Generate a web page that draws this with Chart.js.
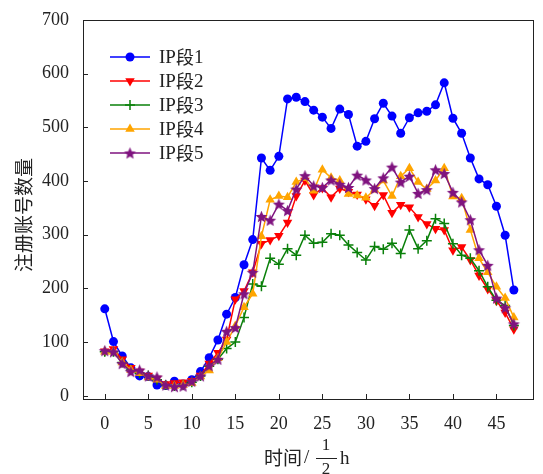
<!DOCTYPE html>
<html>
<head>
<meta charset="utf-8">
<script src="https://cdn.jsdelivr.net/npm/chart.js@4.4.1/dist/chart.umd.min.js"></script>
<style>
  body { margin: 0; background: #fff; }
  canvas { display: block; }
</style>
</head>
<body>
<canvas id="chart" width="543" height="474"></canvas>
<script>
// half-hour slots 0..47
const slots = Array.from({ length: 48 }, (_, i) => i);

const ip1 = [162, 101, 74, 52, 37, 36, 20, 19, 27, 22, 30, 45, 71, 104, 152, 183, 244, 291, 443, 420,
  446, 553, 556, 548, 532, 519, 498, 534, 524, 465, 474, 516, 545, 521, 489, 518, 527, 530, 542, 583,
  517, 489, 443, 404, 393, 353, 299, 197];
const ip2 = [83, 87, 68, 52, 45, 38, 32, 22, 24, 25, 28, 38, 60, 80, 105, 180, 195, 230, 283, 290,
  298, 323, 372, 401, 374, 387, 370, 386, 380, 375, 366, 354, 374, 341, 356, 351, 333, 320, 311, 309,
  271, 277, 253, 224, 199, 177, 155, 124];
const ip3 = [82, 82, 62, 48, 42, 38, 30, 20, 18, 20, 25, 37, 55, 68, 88, 100, 146, 208, 204, 256,
  245, 274, 262, 299, 284, 286, 302, 299, 281, 267, 253, 278, 273, 284, 265, 309, 274, 289, 330, 321,
  283, 262, 256, 233, 203, 178, 168, 131];
const ip4 = [82, 82, 62, 48, 42, 34, 30, 18, 18, 20, 24, 36, 47, 70, 100, 130, 165, 190, 297, 365,
  372, 370, 398, 405, 382, 421, 406, 401, 376, 373, 369, 384, 401, 372, 409, 424, 398, 385, 401, 424,
  371, 368, 309, 256, 230, 203, 182, 146];
const ip5 = [84, 82, 60, 45, 48, 37, 35, 20, 17, 18, 27, 37, 56, 68, 120, 127, 190, 230, 334, 327,
  357, 345, 385, 410, 391, 388, 402, 394, 388, 411, 402, 386, 406, 426, 398, 409, 377, 384, 421, 414,
  379, 361, 328, 272, 243, 182, 164, 134];

const seriesNames = ["IP段1", "IP段2", "IP段3", "IP段4", "IP段5"];
const xTicks = [0, 5, 10, 15, 20, 25, 30, 35, 40, 45];
const yTicks = [0, 100, 200, 300, 400, 500, 600, 700];

const SERIF = "'Liberation Serif', 'Times New Roman', serif";
const CJK = "'Noto Sans CJK SC', sans-serif";

// filled star marker, chart.js 'star' is only an asterisk
function makeStar(color, r) {
  const c = document.createElement("canvas");
  const s = Math.ceil(r * 2 + 2);
  c.width = s; c.height = s;
  const g = c.getContext("2d");
  g.fillStyle = color;
  g.beginPath();
  for (let k = 0; k < 10; k++) {
    const rad = k % 2 === 0 ? r : r * 0.45;
    const a = -Math.PI / 2 + k * Math.PI / 5;
    const px = s / 2 + rad * Math.cos(a), py = s / 2 + rad * Math.sin(a) + 0.6;
    if (k === 0) g.moveTo(px, py); else g.lineTo(px, py);
  }
  g.closePath();
  g.fill();
  return c;
}
const starImg = makeStar("#7f137f", 6.3);

function toPoints(vals) {
  return vals.map((v, i) => ({ x: slots[i], y: v }));
}

const datasets = [
  { label: seriesNames[0], data: toPoints(ip1), borderColor: "#0000ff", backgroundColor: "#0000ff",
    pointStyle: "circle", pointRadius: 4.5, pointBorderWidth: 0, order: 4 },
  { label: seriesNames[1], data: toPoints(ip2), borderColor: "#ff0000", backgroundColor: "#ff0000",
    pointStyle: "triangle", pointRotation: 180, pointRadius: 5.5, pointBorderWidth: 0, order: 3 },
  { label: seriesNames[2], data: toPoints(ip3), borderColor: "#0a800a", backgroundColor: "#0a800a",
    pointStyle: "cross", pointRadius: 5, pointBorderWidth: 1.5, order: 2 },
  { label: seriesNames[3], data: toPoints(ip4), borderColor: "#ffa500", backgroundColor: "#ffa500",
    pointStyle: "triangle", pointRadius: 5.5, pointBorderWidth: 0, order: 1 },
  { label: seriesNames[4], data: toPoints(ip5), borderColor: "#7f137f", backgroundColor: "#7f137f",
    pointStyle: starImg, pointRadius: 6, pointBorderWidth: 0, order: 0 }
];
datasets.forEach(d => { d.borderWidth = 1.5; d.tension = 0; d.fill = false; });

// frame, inward ticks, legend and axis titles
const decor = {
  id: "decor",
  afterDraw(chart) {
    const ctx = chart.ctx;
    const a = chart.chartArea;
    const xs = chart.scales.x, ys = chart.scales.y;
    ctx.save();
    ctx.strokeStyle = "#222";
    ctx.lineWidth = 1;
    ctx.strokeRect(a.left + 0.5, a.top + 0.5, a.right - a.left, a.bottom - a.top);
    ctx.beginPath();
    xTicks.forEach(v => {
      const px = Math.round(xs.getPixelForValue(v)) + 0.5;
      ctx.moveTo(px, a.bottom); ctx.lineTo(px, a.bottom - 5);
    });
    yTicks.forEach(v => {
      const py = Math.round(ys.getPixelForValue(v)) + 0.5;
      ctx.moveTo(a.left, py); ctx.lineTo(a.left + 5, py);
    });
    ctx.stroke();

    // legend
    const lx = 110, ly = 57, step = 24;
    chart.data.datasets.forEach((d, i) => {
      const y = ly + i * step;
      ctx.strokeStyle = d.borderColor;
      ctx.lineWidth = 1.5;
      ctx.beginPath(); ctx.moveTo(lx, y); ctx.lineTo(lx + 40, y); ctx.stroke();
      ctx.fillStyle = d.backgroundColor;
      ctx.strokeStyle = d.borderColor;
      Chart.helpers.drawPoint(ctx, {
        pointStyle: d.pointStyle, rotation: d.pointRotation || 0,
        radius: d.pointRadius, borderWidth: d.pointStyle === "cross" ? 1.5 : 0
      }, lx + 20, y);
      ctx.fillStyle = "#222";
      ctx.textBaseline = "middle";
      ctx.textAlign = "left";
      ctx.font = "19px " + SERIF;
      ctx.fillText("IP", lx + 49, y + 1);
      const w = ctx.measureText("IP").width;
      ctx.font = "18px " + CJK;
      ctx.fillText("段", lx + 49 + w, y);
      const w2 = ctx.measureText("段").width;
      ctx.font = "19px " + SERIF;
      ctx.fillText(String(i + 1), lx + 49 + w + w2, y + 1);
    });

    // y title
    ctx.fillStyle = "#222";
    ctx.save();
    ctx.translate(24, 215);
    ctx.rotate(-Math.PI / 2);
    ctx.font = "19px " + CJK;
    ctx.textAlign = "center";
    ctx.textBaseline = "middle";
    ctx.fillText("注册账号数量", 0, 0);
    ctx.restore();

    // x title: 时间/ (1/2) h
    const ty = 458;
    ctx.textBaseline = "middle";
    ctx.textAlign = "left";
    ctx.font = "19px " + CJK;
    ctx.fillText("时间", 264, ty);
    const wt = ctx.measureText("时间").width;
    ctx.font = "19px " + SERIF;
    ctx.fillText("/", 264 + wt + 2, ty);
    ctx.font = "17px " + SERIF;
    ctx.textAlign = "center";
    ctx.fillText("1", 326, ty - 12);
    ctx.fillText("2", 326, ty + 12);
    ctx.lineWidth = 1;
    ctx.strokeStyle = "#222";
    ctx.beginPath(); ctx.moveTo(316, ty + 0.5); ctx.lineTo(337, ty + 0.5); ctx.stroke();
    ctx.font = "19px " + SERIF;
    ctx.textAlign = "left";
    ctx.fillText("h", 340, ty + 1);
    ctx.restore();
  }
};

new Chart(document.getElementById("chart"), {
  type: "line",
  data: { datasets: datasets },
  options: {
    responsive: false,
    animation: false,
    layout: { padding: { left: 0, right: 10, top: 20, bottom: 0 } },
    plugins: { legend: { display: false }, tooltip: { enabled: false } },
    scales: {
      x: {
        type: "linear", min: -2.5, max: 49.2,
        grid: { display: false }, border: { display: false },
        afterBuildTicks: s => { s.ticks = xTicks.map(v => ({ value: v })); },
        afterFit: s => { s.height = 75; },
        ticks: { color: "#222", font: { family: SERIF, size: 18 }, padding: 6, maxRotation: 0 }
      },
      y: {
        min: -6, max: 700,
        grid: { display: false }, border: { display: false },
        afterBuildTicks: s => { s.ticks = yTicks.map(v => ({ value: v })); },
        afterFit: s => { s.width = 83; },
        ticks: { color: "#222", font: { family: SERIF, size: 18 }, padding: 6 }
      }
    }
  },
  plugins: [decor]
});
</script>
</body>
</html>
